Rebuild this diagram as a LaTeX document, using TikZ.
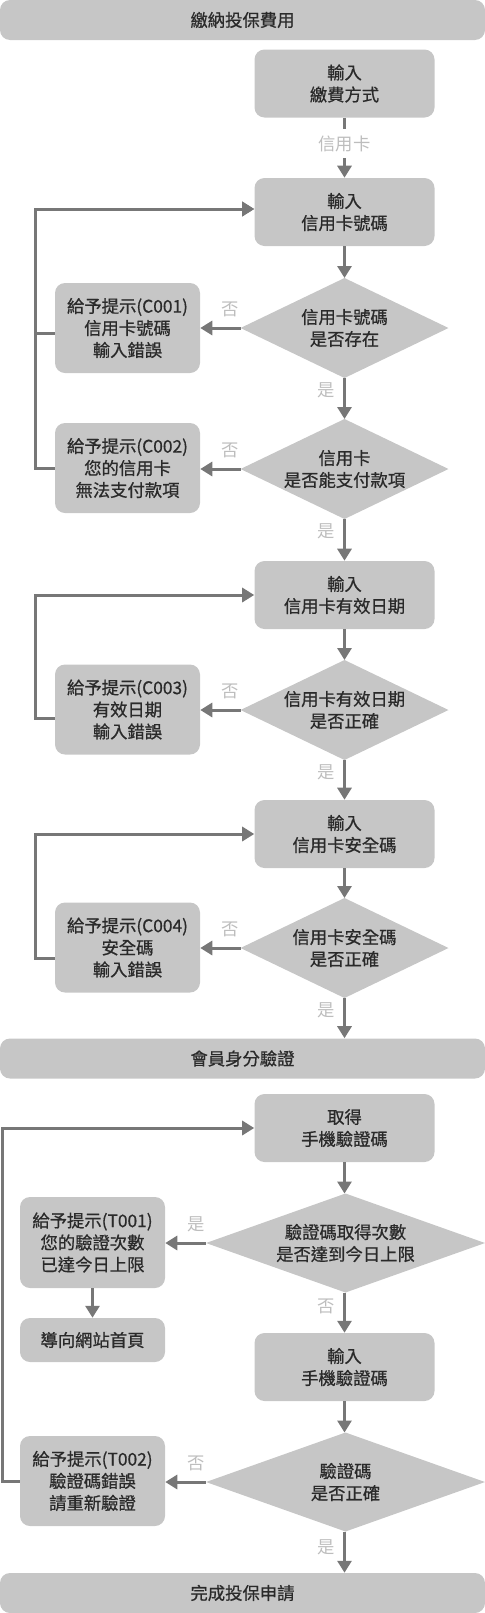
\documentclass[tikz,border=0pt]{standalone}
\usepackage{fontspec}
\setmainfont{Noto Sans CJK TC}
\newfontfamily\heavyfont{Noto Sans CJK TC}[RawFeature={embolden=0.7}]
\usetikzlibrary{arrows.meta,shapes.geometric}
\definecolor{boxfill}{HTML}{C6C6C6}
\definecolor{linec}{HTML}{777777}
\definecolor{lblc}{HTML}{BDBDBD}
\definecolor{txtc}{HTML}{2A2A2A}
\begin{document}
\begin{tikzpicture}[x=0.75pt,y=-0.75pt,
  every node/.style={font=\heavyfont\fontsize{13}{16.5}\selectfont},
  base/.style={fill=boxfill, draw=none, rounded corners=7.5pt, align=center, text=txtc, inner sep=0pt},
  bar/.style={base, minimum width=363.75pt, minimum height=30pt},
  mainbox/.style={base, minimum width=135pt, minimum height=51pt},
  sidebox/.style={base, minimum width=108.75pt, minimum height=67.5pt},
  smallbox/.style={base, minimum width=108.75pt, minimum height=33pt},
  dia/.style={diamond, fill=boxfill, draw=none, inner sep=0pt, outer sep=0pt, minimum width=156pt, minimum height=75pt},
  widedia/.style={dia, minimum width=209.25pt, minimum height=74.25pt},
  diatext/.style={align=center, text=txtc, inner sep=0pt},
  arr/.style={draw=linec, line width=2.25pt, -{Triangle[length=9pt,width=10.5pt]}},
  ln/.style={draw=linec, line width=2.25pt},
  lbl/.style={text=lblc, inner sep=1pt, font=\fontsize{13}{16.5}\selectfont}
]
\useasboundingbox (0,0) rectangle (485,1613);

% bars
\node[bar] (top) at (242.5,20) {繳納投保費用};
\node[bar] (mid) at (242.5,1058.5) {會員身分驗證};
\node[bar] (bot) at (242.5,1593) {完成投保申請};

% credit card part
\node[mainbox] (b1) at (344.5,83.5) {輸入\\繳費方式};
\node[mainbox] (b2) at (344.5,212) {輸入\\信用卡號碼};
\node[dia] (d1) at (344.5,328) {};
\node[diatext] at (d1.center) {信用卡號碼\\是否存在};
\node[sidebox] (e1) at (127.5,328) {給予提示(C001)\\信用卡號碼\\輸入錯誤};

\node[dia] (d2) at (344.5,469) {};
\node[diatext] at (d2.center) {信用卡\\是否能支付款項};
\node[sidebox] (e2) at (127.5,468) {給予提示(C002)\\您的信用卡\\無法支付款項};

\node[mainbox] (b3) at (344.5,595) {輸入\\信用卡有效日期};
\node[dia] (d3) at (344.5,710) {};
\node[diatext] at (d3.center) {信用卡有效日期\\是否正確};
\node[sidebox] (e3) at (127.5,709.5) {給予提示(C003)\\有效日期\\輸入錯誤};

\node[mainbox] (b4) at (344.5,834) {輸入\\信用卡安全碼};
\node[dia] (d4) at (344.5,948) {};
\node[diatext] at (d4.center) {信用卡安全碼\\是否正確};
\node[sidebox] (e4) at (127.5,947.5) {給予提示(C004)\\安全碼\\輸入錯誤};

% phone verification part
\node[mainbox] (b5) at (344.5,1128) {取得\\手機驗證碼};
\node[widedia] (d5) at (345.5,1243) {};
\node[diatext] at (d5.center) {驗證碼取得次數\\是否達到今日上限};
\node[sidebox, minimum height=68.25pt] (t1) at (92.5,1242.5) {給予提示(T001)\\您的驗證次數\\已達今日上限};
\node[smallbox] (h) at (92.5,1340) {導向網站首頁};

\node[mainbox] (b6) at (344.5,1367) {輸入\\手機驗證碼};
\node[widedia] (d6) at (345.5,1482) {};
\node[diatext] at (d6.center) {驗證碼\\是否正確};
\node[sidebox] (t2) at (92.5,1481) {給予提示(T002)\\驗證碼錯誤\\請重新驗證};

% main flow
\draw[arr] (b1.south) -- node[lbl, pos=0.43, fill=white, inner ysep=5pt] {信用卡} (b2.north);
\draw[arr] (b2.south) -- (d1.north);
\draw[arr] (d1.south) -- node[lbl, pos=0.3, left=5pt] {是} (d2.north);
\draw[arr] (d2.south) -- node[lbl, pos=0.3, left=5pt] {是} (b3.north);
\draw[arr] (b3.south) -- (d3.north);
\draw[arr] (d3.south) -- node[lbl, pos=0.3, left=5pt] {是} (b4.north);
\draw[arr] (b4.south) -- (d4.north);
\draw[arr] (d4.south) -- node[lbl, pos=0.3, left=5pt] {是} (mid.north -| d4.south);
\draw[arr] (b5.south) -- (d5.north -| b5.south);
\draw[arr] (d5.south -| b5.south) -- node[lbl, pos=0.35, left=5pt] {否} (b6.north);
\draw[arr] (b6.south) -- (d6.north -| b6.south);
\draw[arr] (d6.south -| b6.south) -- node[lbl, pos=0.38, left=5pt] {是} (bot.north -| b6.south);

% no branches
\draw[arr] (d1.west) -- node[lbl, pos=0.25, above=6pt] {否} (e1.east);
\draw[arr] (d2.west) -- node[lbl, pos=0.25, above=6pt] {否} (e2.east |- d2.west);
\draw[arr] (d3.west) -- node[lbl, pos=0.25, above=6pt] {否} (e3.east |- d3.west);
\draw[arr] (d4.west) -- node[lbl, pos=0.25, above=6pt] {否} (e4.east |- d4.west);
\draw[arr] (d5.west) -- node[lbl, pos=0.25, above=6pt] {是} (t1.east |- d5.west);
\draw[arr] (d6.west) -- node[lbl, pos=0.25, above=6pt] {否} (t2.east |- d6.west);
\draw[arr] (t1.south) -- (h.north);

% loops
\draw[arr] ([yshift=-3.75pt]e1.west) -- ++(-19,0) |- ([yshift=2.25pt]b2.west);
\draw[arr] (e2.west) -- ++(-19,0) |- ([yshift=2.25pt]b2.west);
\draw[arr] ([yshift=-6.4pt]e3.west) -- ++(-19,0) |- (b3.west);
\draw[arr] ([yshift=-8.6pt]e4.west) -- ++(-19,0) |- (b4.west);
\draw[arr] (t2.west) -- ++(-17,0) |- (b5.west);
\end{tikzpicture}
\end{document}
